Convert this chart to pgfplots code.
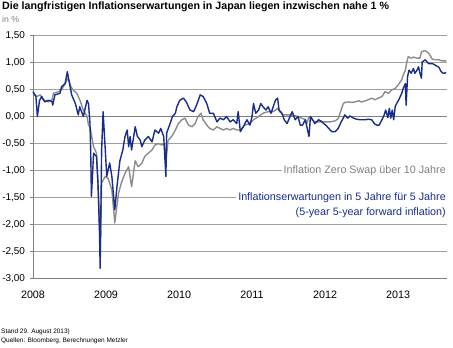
\documentclass[border=0pt]{standalone}
\usepackage{pgfplots}
\pgfplotsset{compat=1.18}
\usepackage{fontspec}
\setmainfont{Liberation Sans}
\definecolor{navy}{RGB}{24,44,140}
\definecolor{swapgray}{RGB}{140,140,140}
\definecolor{txtgray}{RGB}{128,128,128}
\definecolor{gridgray}{RGB}{160,160,160}
\begin{document}
\begin{tikzpicture}[x=1bp,y=1bp]
\begin{axis}[
  at={(0,0)}, anchor=south west,
  scale only axis, width=414bp, height=243bp,
  xmin=2008, xmax=2013.67, ymin=-3, ymax=1.5,
  axis lines=left,
  axis line style={-, draw=gray, line width=0.8bp},
  xtick={2008,2009,2010,2011,2012,2013},
  ytick={-3,-2.5,-2,-1.5,-1,-0.5,0,0.5,1,1.5},
  ymajorgrids,
  grid style={gridgray, line width=0.8bp},
  tick align=outside,
  major tick length=3bp,
  xtick style={draw=none},
  ytick style={draw=gray, line width=0.8bp},
  xticklabel style={font=\fontsize{10.8}{12}\selectfont, /pgf/number format/1000 sep={}, /pgf/number format/assume math mode=true, yshift=-6bp},
  yticklabel style={font=\fontsize{10}{12}\selectfont, xshift=-1.5bp, /pgf/number format/.cd, fixed, fixed zerofill, precision=2, use comma, assume math mode=true},
  clip=false,
]
\draw[txtgray, line width=1.1bp] (axis cs:2008,0) -- (axis cs:2013.67,0);
\addplot[swapgray, line width=1.4bp, line join=round] coordinates {
(2008.00,0.44) (2008.05,0.37) (2008.10,0.40) (2008.14,0.31) (2008.21,0.27) (2008.26,0.31) (2008.28,0.43) (2008.35,0.46) (2008.39,0.49) (2008.44,0.61) (2008.48,0.71) (2008.52,0.55) (2008.55,0.49) (2008.60,0.43) (2008.64,0.31) (2008.69,0.12) (2008.74,0.00) (2008.76,-0.16) (2008.78,-0.19) (2008.83,-0.56) (2008.87,-0.68) (2008.89,-1.24) (2008.91,-1.97) (2008.92,-2.55) (2008.94,-1.23) (2008.99,-1.11) (2009.03,-1.15) (2009.08,-1.36) (2009.12,-1.97) (2009.17,-1.43) (2009.21,-1.23) (2009.26,-1.05) (2009.31,-0.93) (2009.35,-1.30) (2009.40,-0.82) (2009.44,-0.93) (2009.49,-0.87) (2009.53,-0.74) (2009.58,-0.68) (2009.63,-0.62) (2009.67,-0.53) (2009.72,-0.50) (2009.76,-0.53) (2009.79,-0.50) (2009.81,-0.62) (2009.82,-0.85) (2009.85,-0.44) (2009.90,-0.37) (2009.95,-0.25) (2009.99,-0.13) (2010.04,-0.06) (2010.08,-0.03) (2010.13,-0.16) (2010.18,-0.19) (2010.22,-0.13) (2010.26,0.00) (2010.30,0.06) (2010.33,-0.06) (2010.38,-0.16) (2010.42,-0.22) (2010.47,-0.25) (2010.52,-0.19) (2010.56,-0.22) (2010.61,-0.25) (2010.65,-0.22) (2010.70,-0.25) (2010.74,-0.22) (2010.79,-0.25) (2010.84,-0.25) (2010.90,-0.16) (2010.97,-0.13) (2011.02,-0.06) (2011.09,0.00) (2011.15,0.06) (2011.22,0.09) (2011.29,0.09) (2011.35,0.15) (2011.38,0.09) (2011.42,0.03) (2011.50,0.03) (2011.57,0.02) (2011.63,0.00) (2011.68,-0.03) (2011.73,-0.06) (2011.75,-0.13) (2011.78,0.00) (2011.82,-0.06) (2011.86,-0.10) (2011.93,-0.10) (2012.00,-0.10) (2012.07,-0.10) (2012.14,-0.08) (2012.18,-0.04) (2012.22,0.12) (2012.25,0.24) (2012.27,0.26) (2012.32,0.27) (2012.37,0.26) (2012.41,0.27) (2012.46,0.29) (2012.50,0.27) (2012.55,0.29) (2012.59,0.31) (2012.64,0.34) (2012.68,0.31) (2012.73,0.34) (2012.78,0.37) (2012.82,0.46) (2012.87,0.43) (2012.91,0.49) (2012.96,0.52) (2013.00,0.58) (2013.05,0.68) (2013.07,0.77) (2013.10,0.86) (2013.12,1.01) (2013.14,1.11) (2013.18,1.08) (2013.21,1.10) (2013.26,1.08) (2013.30,1.08) (2013.32,1.20) (2013.37,1.22) (2013.42,1.17) (2013.47,1.06) (2013.51,1.05) (2013.56,1.05) (2013.60,1.03) (2013.66,1.03)
};
\addplot[navy, line width=1.4bp, line join=round] coordinates {
(2008.00,0.46) (2008.04,0.37) (2008.06,0.00) (2008.09,0.30) (2008.12,0.37) (2008.16,0.27) (2008.21,0.30) (2008.26,0.28) (2008.27,0.21) (2008.30,0.40) (2008.37,0.43) (2008.39,0.55) (2008.44,0.61) (2008.47,0.83) (2008.50,0.61) (2008.53,0.40) (2008.58,0.24) (2008.62,0.03) (2008.64,0.18) (2008.69,0.00) (2008.74,0.30) (2008.76,0.24) (2008.78,-0.12) (2008.79,-0.62) (2008.80,-1.48) (2008.83,-0.68) (2008.87,-0.74) (2008.89,-1.24) (2008.91,-2.10) (2008.92,-2.81) (2008.94,-0.62) (2008.96,0.09) (2008.99,-0.62) (2009.01,-1.11) (2009.05,-0.86) (2009.08,-1.11) (2009.12,-1.73) (2009.15,-1.30) (2009.19,-0.82) (2009.23,-0.62) (2009.26,-0.37) (2009.29,-0.25) (2009.31,-0.56) (2009.33,-0.37) (2009.35,-0.62) (2009.40,-0.19) (2009.43,-0.37) (2009.47,-0.44) (2009.49,-0.56) (2009.53,-0.44) (2009.58,-0.37) (2009.63,-0.47) (2009.67,-0.25) (2009.72,-0.31) (2009.75,-0.22) (2009.79,-0.37) (2009.82,-1.11) (2009.83,-0.31) (2009.88,-0.12) (2009.91,0.00) (2009.95,0.06) (2009.97,0.18) (2010.01,0.30) (2010.06,0.34) (2010.10,0.27) (2010.15,0.12) (2010.20,0.09) (2010.24,0.21) (2010.29,0.40) (2010.33,0.37) (2010.38,0.24) (2010.42,0.06) (2010.47,0.06) (2010.52,-0.10) (2010.56,-0.03) (2010.61,-0.06) (2010.65,0.00) (2010.70,-0.10) (2010.74,-0.06) (2010.79,-0.13) (2010.81,0.09) (2010.84,-0.28) (2010.88,-0.19) (2010.93,-0.06) (2010.97,-0.16) (2011.00,0.00) (2011.02,0.24) (2011.05,0.06) (2011.09,0.12) (2011.12,0.24) (2011.15,0.18) (2011.19,0.12) (2011.22,0.18) (2011.26,0.06) (2011.29,0.18) (2011.32,0.30) (2011.35,0.34) (2011.37,0.12) (2011.41,0.06) (2011.44,-0.06) (2011.48,-0.13) (2011.52,0.00) (2011.55,0.09) (2011.59,-0.06) (2011.63,0.00) (2011.66,-0.16) (2011.69,-0.16) (2011.73,-0.06) (2011.76,-0.25) (2011.78,-0.37) (2011.80,0.00) (2011.83,-0.06) (2011.86,-0.13) (2011.91,-0.06) (2011.95,-0.09) (2011.98,-0.13) (2012.01,-0.16) (2012.05,-0.22) (2012.09,-0.28) (2012.14,-0.28) (2012.18,-0.22) (2012.22,-0.10) (2012.25,-0.03) (2012.27,0.03) (2012.31,-0.03) (2012.34,0.01) (2012.39,-0.03) (2012.43,-0.05) (2012.48,-0.06) (2012.55,-0.06) (2012.59,-0.05) (2012.64,-0.06) (2012.68,-0.14) (2012.71,-0.16) (2012.74,-0.16) (2012.78,-0.06) (2012.81,0.03) (2012.83,0.12) (2012.86,-0.02) (2012.88,0.15) (2012.90,-0.03) (2012.92,0.12) (2012.94,-0.06) (2012.96,0.18) (2012.98,0.24) (2013.01,0.31) (2013.03,0.37) (2013.05,0.43) (2013.07,0.52) (2013.10,0.61) (2013.11,0.21) (2013.13,0.74) (2013.15,0.86) (2013.18,0.80) (2013.21,0.89) (2013.23,0.80) (2013.26,0.86) (2013.28,0.92) (2013.30,0.80) (2013.32,0.71) (2013.33,1.01) (2013.37,1.05) (2013.42,0.98) (2013.47,0.98) (2013.51,0.95) (2013.56,0.91) (2013.59,0.83) (2013.62,0.80) (2013.66,0.81)
};
\node[anchor=east, fill=white, inner xsep=2bp, inner ysep=1bp, text=txtgray, font=\fontsize{10.8}{12}\selectfont, xshift=1bp] at (axis cs:2013.67,-1) {Inflation Zero Swap über 10 Jahre};
\node[anchor=east, fill=white, inner xsep=2bp, inner ysep=1bp, text=navy, font=\fontsize{10.8}{12}\selectfont, xshift=1bp] at (axis cs:2013.67,-1.5) {Inflationserwartungen in 5 Jahre für 5 Jahre};
\node[anchor=east, inner xsep=2bp, inner ysep=1bp, text=navy, font=\fontsize{10.8}{12}\selectfont, xshift=1bp, yshift=-15bp] at (axis cs:2013.67,-1.5) {(5-year 5-year forward inflation)};
\end{axis}
\node[anchor=west, inner sep=0pt, font=\bfseries\fontsize{10.7}{12}\selectfont] at (-31bp,271.5bp) {Die langfristigen Inflationserwartungen in Japan liegen inzwischen nahe 1 \%};
\node[anchor=west, inner sep=0pt, text=txtgray, font=\fontsize{8.7}{10}\selectfont] at (-31bp,259.5bp) {in \%};
\node[anchor=west, inner sep=0pt, font=\fontsize{6.5}{8}\selectfont] at (-32bp,-53.5bp) {Stand 29. August 2013)};
\node[anchor=west, inner sep=0pt, font=\fontsize{6.5}{8}\selectfont] at (-32bp,-62.5bp) {Quellen: Bloomberg, Berechnungen Metzler};
\pgfresetboundingbox
\path[use as bounding box] (-33bp,-69.5bp) rectangle (420bp,278.5bp);
\end{tikzpicture}
\end{document}
